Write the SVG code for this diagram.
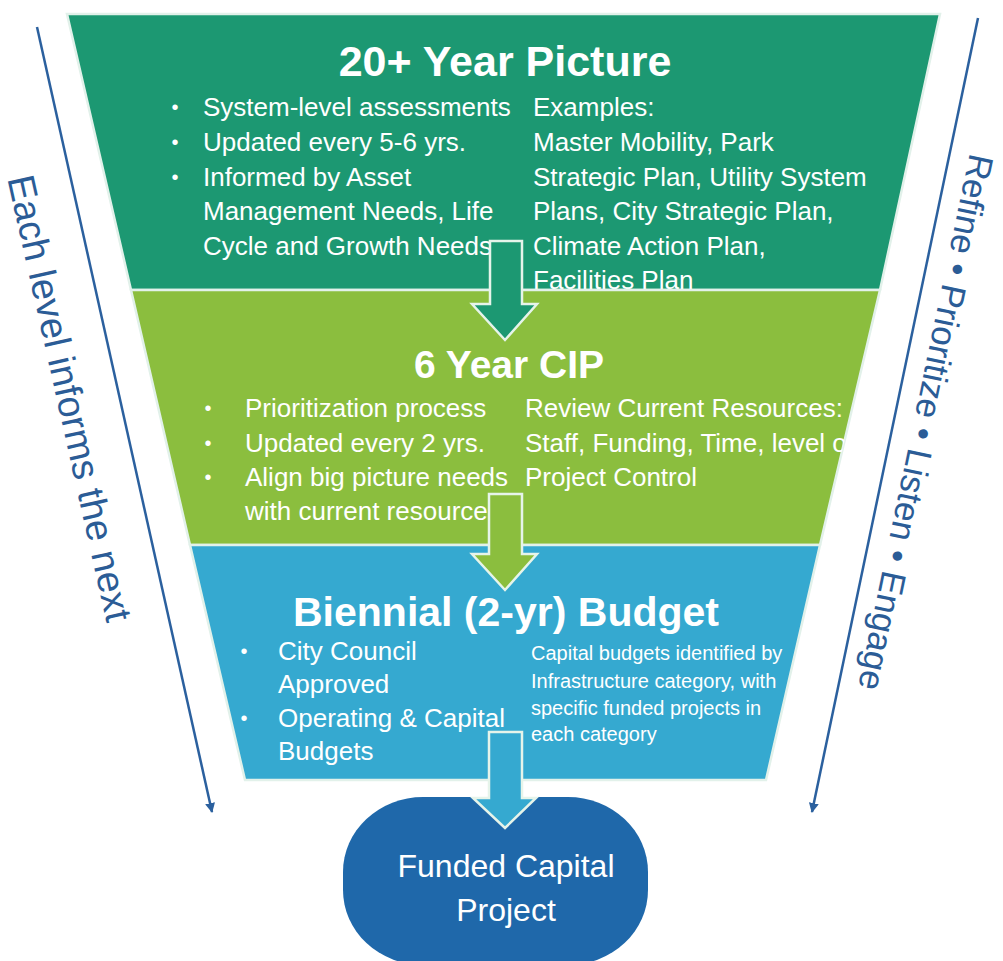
<svg xmlns="http://www.w3.org/2000/svg" width="1003" height="961" viewBox="0 0 1003 961">
<style>
.band{stroke:#e2f1ea;stroke-width:2.5;stroke-linejoin:miter}
.t{font-family:"Liberation Sans",Arial,sans-serif;fill:#ffffff}
.title{font-weight:bold;text-anchor:middle}
.body{font-size:26px}
.small{font-size:20px}
.bul{font-size:20px;text-anchor:middle}
.side{font-family:"Liberation Sans",Arial,sans-serif;fill:#2b5c96;text-anchor:middle}
.blk{stroke:#e6f4ea;stroke-width:2.5;stroke-linejoin:miter}
.sl{stroke:#2b609e;stroke-width:2.5;fill:none}
</style>
<defs>
<marker id="ah" viewBox="0 0 10 10" refX="9" refY="5" markerWidth="4" markerHeight="4" orient="auto" markerUnits="strokeWidth">
<path d="M0,0 L10,5 L0,10 z" fill="#2b609e"/>
</marker>
<clipPath id="clip6">
<polygon points="131,290 880,290 820,545 190,545"/>
</clipPath>
</defs>
<rect width="1003" height="961" fill="#ffffff"/>

<g id="band-20yr">
<polygon class="band" points="67,14 940,14 880,290 131,290" fill="#1c9872"/>
<text class="t title" x="505" y="76" font-size="43">20+ Year Picture</text>
<text class="t bul" x="175" y="114">•</text>
<text class="t bul" x="175" y="149">•</text>
<text class="t bul" x="175" y="184">•</text>
<text class="t body" x="203" y="116">System-level assessments</text>
<text class="t body" x="203" y="151">Updated every 5-6 yrs.</text>
<text class="t body" x="203" y="186">Informed by Asset</text>
<text class="t body" x="203" y="220">Management Needs, Life</text>
<text class="t body" x="203" y="255">Cycle and Growth Needs</text>
<text class="t body" x="533" y="116">Examples:</text>
<text class="t body" x="533" y="151">Master Mobility, Park</text>
<text class="t body" x="533" y="186">Strategic Plan, Utility System</text>
<text class="t body" x="533" y="220">Plans, City Strategic Plan,</text>
<text class="t body" x="533" y="255">Climate Action Plan,</text>
<text class="t body" x="533" y="289">Facilities Plan</text>
</g>

<g id="band-6yr">
<polygon class="band" points="131,290 880,290 820,545 190,545" fill="#8bbe3e"/>
<text class="t title" x="509" y="378" font-size="39">6 Year CIP</text>
<text class="t bul" x="208" y="415">•</text>
<text class="t bul" x="208" y="450">•</text>
<text class="t bul" x="208" y="484">•</text>
<text class="t body" x="245" y="417">Prioritization process</text>
<text class="t body" x="245" y="452">Updated every 2 yrs.</text>
<text class="t body" x="245" y="486">Align big picture needs</text>
<text class="t body" x="245" y="520">with current resources</text>
<text class="t body" x="525" y="417">Review Current Resources:</text>
<text class="t body" x="525" y="452" clip-path="url(#clip6)">Staff, Funding, Time, level of</text>
<text class="t body" x="525" y="486">Project Control</text>
</g>

<g id="band-budget">
<polygon class="band" points="190,545 820,545 766,780 245,780" fill="#35a9d0"/>
<text class="t title" x="506" y="626" font-size="41">Biennial (2-yr) Budget</text>
<text class="t bul" x="244" y="658">•</text>
<text class="t bul" x="244" y="725">•</text>
<text class="t body" x="278" y="660">City Council</text>
<text class="t body" x="278" y="693">Approved</text>
<text class="t body" x="278" y="727">Operating &amp; Capital</text>
<text class="t body" x="278" y="760">Budgets</text>
<text class="t small" x="531" y="660">Capital budgets identified by</text>
<text class="t small" x="531" y="688">Infrastructure category, with</text>
<text class="t small" x="531" y="715">specific funded projects in</text>
<text class="t small" x="531" y="741">each category</text>
</g>

<g id="funded-project">
<rect x="343" y="797" width="305" height="168" rx="80" ry="75" fill="#1f68aa"/>
<text class="t" x="506" y="877" font-size="32" text-anchor="middle">Funded Capital</text>
<text class="t" x="506" y="921" font-size="32" text-anchor="middle">Project</text>
</g>

<g id="left-label">
<text class="side" font-size="38" transform="translate(57,401) rotate(77.4)">Each level informs the next</text>
</g>
<g id="right-label">
<text class="side" font-size="35" transform="translate(914,420) rotate(101.8)">Refine • Prioritize • Listen • Engage</text>
</g>

<g id="connectors">
<polygon class="blk" fill="#1c9872" points="490,241 522,241 522,304 537,304 505,340 472,304 490,304"/>
<polygon class="blk" fill="#8bbe3e" points="489,494 522,494 522,554 537,554 505,590 472,554 489,554"/>
<polygon class="blk" fill="#35a9d0" points="489,732 522,732 522,798 536,798 505,828 473,798 489,798"/>
<line class="sl" x1="37" y1="27" x2="212" y2="812" marker-end="url(#ah)"/>
<line class="sl" x1="978" y1="18" x2="812" y2="812" marker-end="url(#ah)"/>
</g>
</svg>
